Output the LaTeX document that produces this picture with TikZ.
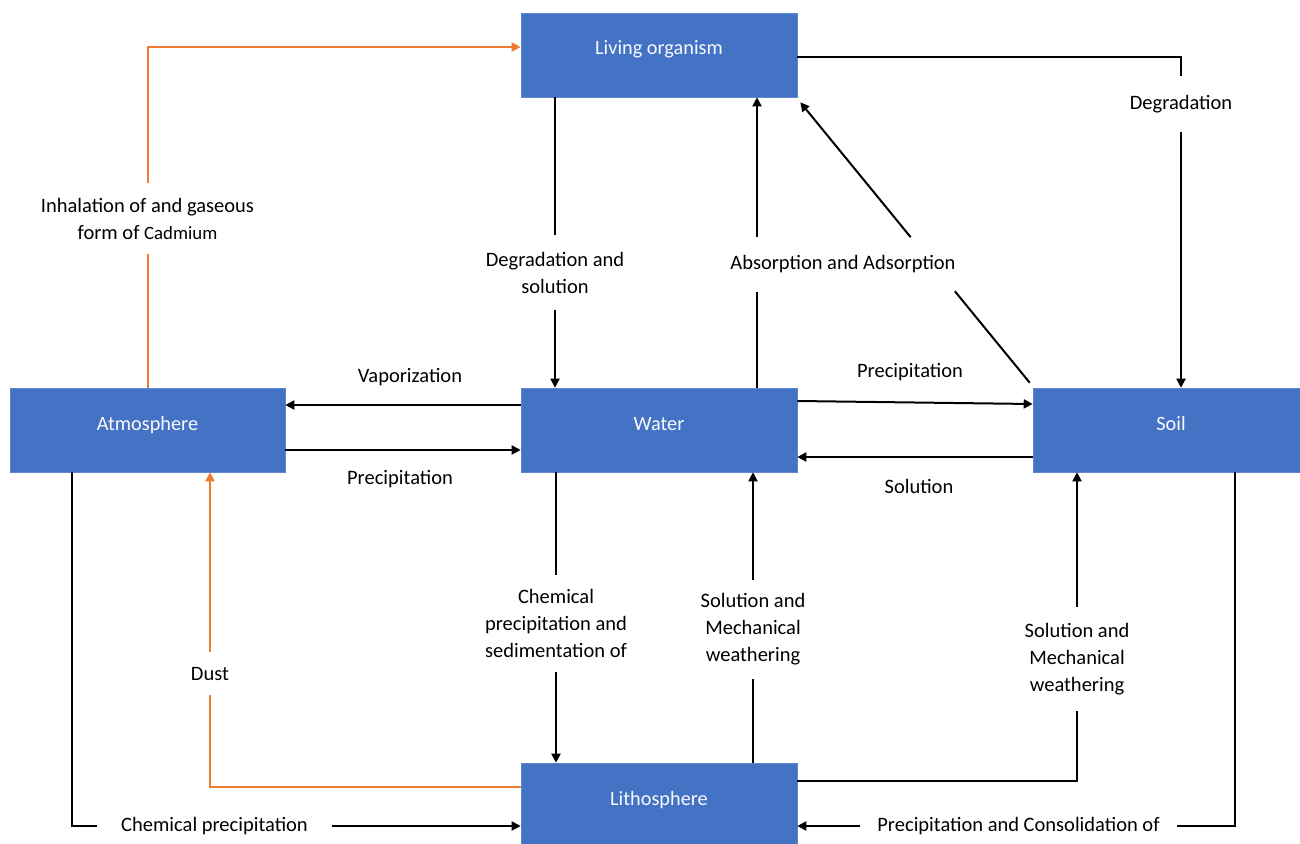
\documentclass[tikz,border=0pt]{standalone}
\usepackage{fontspec}
\setmainfont{Carlito}
\usetikzlibrary{arrows.meta,calc}
\definecolor{boxblue}{HTML}{4472C4}
\definecolor{orng}{HTML}{ED7D31}
\tikzset{
 box/.style={rectangle, fill=boxblue, draw=boxblue!85!white, line width=0.6pt, minimum width=276pt, minimum height=84pt, text=white!96!boxblue, font=\fontsize{20.3}{24}\selectfont, inner sep=0pt},
 lab/.style={font=\fontsize{20.5}{27}\selectfont, align=center, inner sep=0pt, text=black},
 con/.style={line width=2pt, draw=black},
 arr/.style={con, -{Triangle[length=9pt,width=9pt]}},
 ocon/.style={line width=2pt, draw=orng},
 oarr/.style={ocon, -{Triangle[length=9pt,width=9pt]}},
}
\begin{document}
\begin{tikzpicture}[x=1pt,y=-1pt]
\useasboundingbox (0,0) rectangle (1300,843);
\fill[white] (0,0) rectangle (1300,843);
\clip (0,0) rectangle (1300,843);
% boxes
\node[box] (liv) at (659,55) {\smash{Living organism}};
\node[box, minimum width=275pt] (atm) at (147.5,430) {\smash{Atmosphere}};
\node[box] (wat) at (659,430) {\smash{Water}};
\node[box] (soil) at (1171,430) {\smash{Soil}};
\node[box] (lith) at (659,805) {\smash{Lithosphere}};
% labels
\node[lab, minimum height=71pt] (inh) at (147.5,218.5) {Inhalation of and gaseous\\form of {\fontsize{18.8}{27}\selectfont Cadmium}};
\node[lab, minimum height=75pt] (dgs) at (555,272.5) {Degradation and\\solution};
\node[lab, minimum height=55pt] (abs) at (843,264.5) {Absorption and Adsorption};
\node[lab, minimum height=55pt] (dgr) at (1181,104) {Degradation};
\node[lab] (vap) at (410,377) {Vaporization};
\node[lab] (pr1) at (400,479) {Precipitation};
\node[lab] (pr2) at (910,372) {Precipitation};
\node[lab] (sol) at (919,486) {Solution};
\node[lab, minimum height=97pt] (chs) at (556,623.5) {Chemical\\precipitation and\\sedimentation of};
\node[lab, minimum height=99pt] (smw1) at (753,629.5) {Solution and\\Mechanical\\weathering};
\node[lab, minimum height=104pt] (smw2) at (1077,659) {Solution and\\Mechanical\\weathering};
\node[lab, inner xsep=17.5pt] (pcl) at (1018.5,826) {Precipitation and Consolidation of};
\node[lab, inner xsep=24pt] (cp) at (214.5,826) {Chemical precipitation};
\node[lab, minimum height=43pt] (dust) at (210,673.5) {Dust};
% connectors
\draw[ocon] (atm.north) -- (inh);
\draw[oarr] (inh) |- ([yshift=8pt]liv.west);
\draw[con] ([xshift=-104pt]liv.south) -- (dgs);
\draw[arr] (dgs) -- ([xshift=-104pt]wat.north);
\coordinate (w1) at ([xshift=98pt]wat.north);
\draw[con] (w1) -- (w1 |- abs.south);
\draw[arr] (w1 |- abs.north) -- (w1 |- liv.south);
\coordinate (sa) at ([shift={(-3pt,5pt)}]soil.north west);
\coordinate (lb) at ([shift={(3pt,-5pt)}]liv.south east);
\draw[con] (sa) -- ($(sa)!0.326!(lb)$);
\draw[arr] ($(sa)!0.519!(lb)$) -- (lb);
\draw[con] ([yshift=-2pt]liv.east) -| (dgr);
\draw[arr] (dgr) -- (dgr |- soil.north);
\draw[arr] ([yshift=25pt]wat.west) -- ([yshift=25pt]atm.east);
\draw[arr] ([yshift=-20pt]atm.east) -- ([yshift=-20pt]wat.west);
\draw[arr] ([yshift=29pt]wat.east) -- ([yshift=26pt]soil.west);
\draw[arr] ([yshift=-27pt]soil.west) -- ([yshift=-27pt]wat.east);
\draw[con] ([xshift=-103pt]wat.south) -- (chs);
\draw[arr] (chs) -- ([xshift=-103pt]lith.north);
\draw[con] ([xshift=94pt]lith.north) -- (smw1);
\draw[arr] (smw1) -- ([xshift=94pt]wat.south);
\draw[con] ([yshift=24pt]lith.east) -| (smw2);
\draw[arr] (smw2) -- (smw2 |- soil.south);
\draw[con] ([xshift=64pt]soil.south) |- (pcl);
\draw[arr] (pcl) -- ([yshift=-21pt]lith.east);
\draw[con] ([xshift=-75.5pt]atm.south) |- (cp);
\draw[arr] (cp) -- ([yshift=-21pt]lith.west);
\draw[ocon] ([yshift=18pt]lith.west) -| (dust);
\draw[oarr] (dust) -- (dust |- atm.south);
\end{tikzpicture}
\end{document}
